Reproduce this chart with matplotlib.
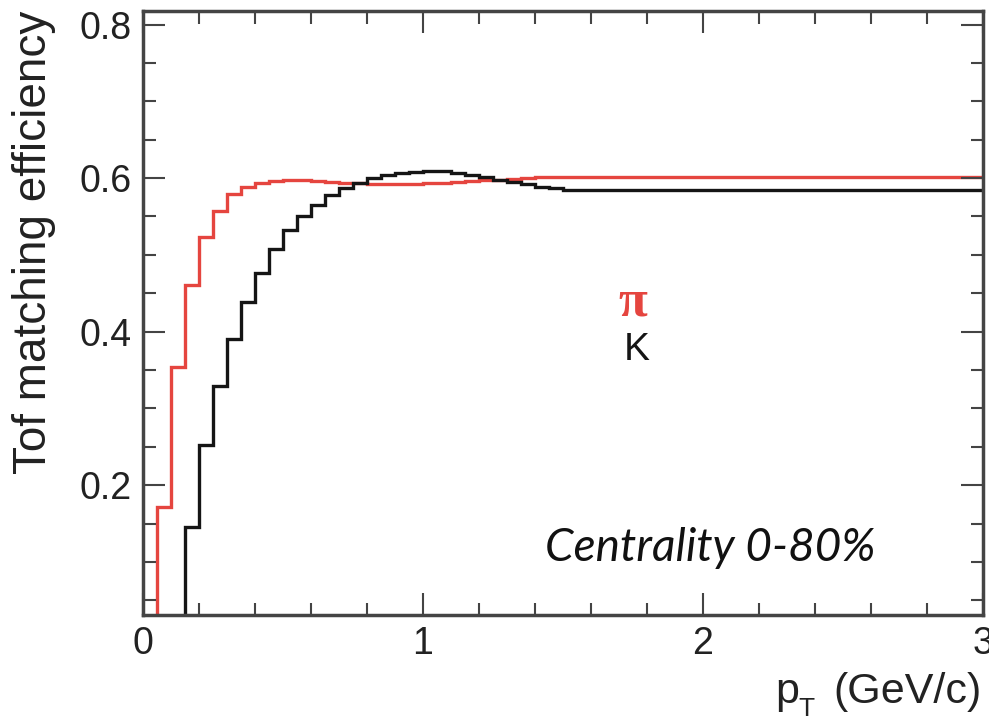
import matplotlib
matplotlib.use('Agg')
import matplotlib.pyplot as plt
from matplotlib.ticker import MultipleLocator

# Fuentes (estilo ROOT / Helvetica)
plt.rcParams['font.family'] = ['Liberation Sans', 'DejaVu Sans']

# Bordes de los bins en pT (GeV/c)
bordes = [0.0, 0.05, 0.1, 0.15, 0.2, 0.25, 0.3, 0.35, 0.4, 0.45, 0.5,
          0.55, 0.6, 0.65, 0.7, 0.75, 0.8, 0.85, 0.9, 0.95, 1.0,
          1.05, 1.1, 1.15, 1.2, 1.25, 1.3, 1.35, 1.4, 1.45, 1.5, 3.0]

# Eficiencia de matching TOF para piones
eff_pion = [0.0, 0.171, 0.354, 0.461, 0.523, 0.557, 0.579, 0.589, 0.593, 0.596,
            0.597, 0.597, 0.596, 0.595, 0.594, 0.593, 0.592, 0.592, 0.592, 0.592,
            0.593, 0.594, 0.595, 0.596, 0.597, 0.598, 0.599, 0.600, 0.601, 0.601,
            0.602]

# Eficiencia de matching TOF para kaones
eff_kaon = [0.0, 0.0, 0.0, 0.146, 0.252, 0.329, 0.390, 0.438, 0.476, 0.507,
            0.532, 0.551, 0.565, 0.578, 0.587, 0.593, 0.600, 0.604, 0.606, 0.608,
            0.609, 0.609, 0.607, 0.604, 0.601, 0.598, 0.595, 0.592, 0.589, 0.587,
            0.584]

W, H = 989, 723
fig = plt.figure(figsize=(W / 100, H / 100), dpi=100)
ax = fig.add_axes([0.1446, 0.1494, 0.8493, 0.8354])

ax.stairs(eff_pion, bordes, color='#e5453f', linewidth=2.4, baseline=None)
ax.stairs(eff_kaon, bordes, color='#151515', linewidth=2.4, baseline=None)

ax.set_xlim(0, 3)
ax.set_ylim(0.031, 0.8176)

# Ticks estilo ROOT: hacia dentro, en los cuatro lados
ax.xaxis.set_major_locator(MultipleLocator(1))
ax.xaxis.set_minor_locator(MultipleLocator(0.2))
ax.yaxis.set_major_locator(MultipleLocator(0.2))
ax.yaxis.set_minor_locator(MultipleLocator(0.05))
ax.tick_params(which='both', direction='in', top=True, right=True,
               color='#444444', width=1.5, labelsize=27, labelcolor='#222222')
ax.tick_params(which='major', length=16)
ax.tick_params(which='minor', length=9)
ax.tick_params(axis='x', pad=8)
ax.tick_params(axis='y', pad=8)
ax.set_yticks([0.2, 0.4, 0.6, 0.8])
ax.set_yticklabels(['0.2', '0.4', '0.6', '0.8'])
ax.set_xticks([0, 1, 2, 3])
ax.set_xticklabels(['0', '1', '2', '3'])

for lado in ax.spines.values():
    lado.set_linewidth(2.5)
    lado.set_color('#444444')

# Título del eje Y
fig.text(0.034, 1 - 242 / H, 'Tof matching efficiency', rotation=90,
         ha='center', va='center', fontsize=33, color='#222222')

# Título del eje X: p con subíndice T al estilo ROOT
fig.text(775 / W, 1 - 703 / H, 'p', ha='left', va='baseline',
         fontsize=31, color='#222222')
fig.text(798 / W, 1 - 697 / H, 'T', ha='left', va='top',
         fontsize=19, color='#222222')
fig.text(982 / W, 1 - 703 / H, '(GeV/c)', ha='right', va='baseline',
         fontsize=31, color='#222222')

# Etiquetas de las partículas y centralidad
ax.text(1.75, 0.438, 'π', color='#e5453f', fontsize=38, fontweight='bold',
        family=['Liberation Serif', 'DejaVu Serif'], ha='center', va='center')
ax.text(1.764, 0.376, 'K', color='#151515', fontsize=28, ha='center', va='center')
ax.text(2.025, 0.118, 'Centrality 0-80%', fontsize=33, style='italic',
        family=['Lato', 'DejaVu Sans'], ha='center', va='center', color='#111111')

fig.savefig('out.png', dpi=100)
